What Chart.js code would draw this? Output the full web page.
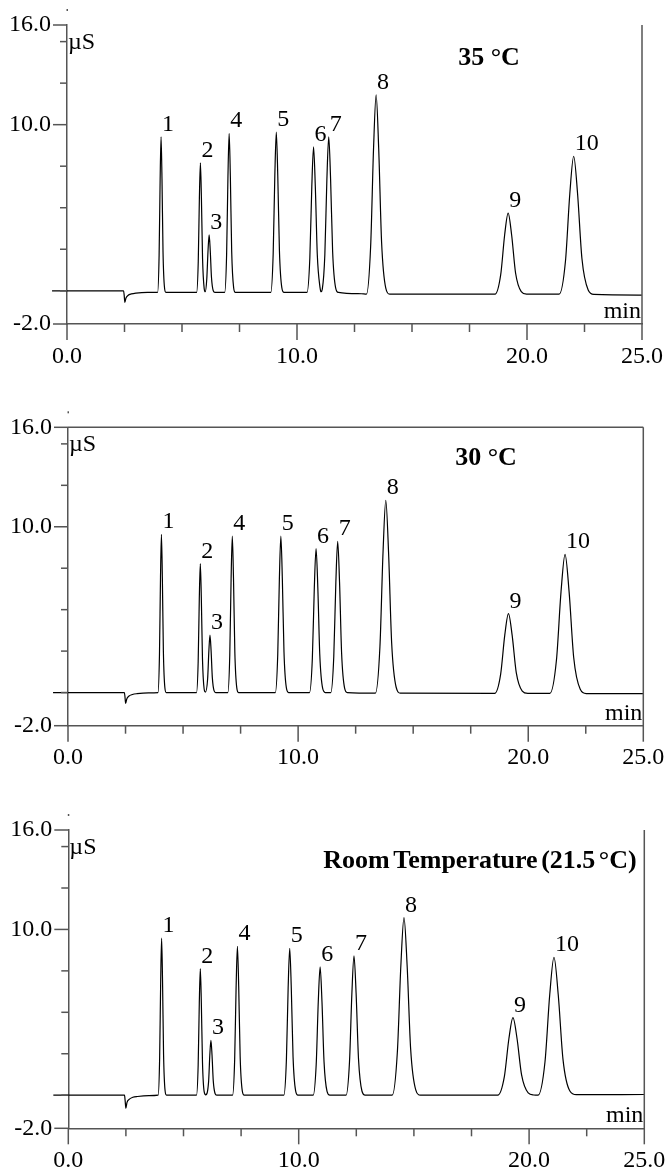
<!DOCTYPE html>
<html><head><meta charset="utf-8">
<script src="https://cdn.jsdelivr.net/npm/chart.js@4.4.1/dist/chart.umd.min.js"></script>
<style>
html,body{margin:0;padding:0;background:#fff;width:669px;height:1171px;overflow:hidden}
.panel{position:absolute;left:0;width:669px;height:366px}
</style></head><body>
<div class="panel" style="top:0px"><canvas id="c1" width="669" height="366"></canvas></div>
<div class="panel" style="top:402px"><canvas id="c2" width="669" height="366"></canvas></div>
<div class="panel" style="top:805px"><canvas id="c3" width="669" height="366"></canvas></div>
<script>
// ---- tick values ----
const xMajorTicks = [0, 10, 20, 25];
const xMinorTicks = [2.5, 5, 7.5, 12.5, 15, 17.5, 22.5];
const yMajorTicks = [-2, 10, 16];
const yMinorTicks = [0, 2.5, 5, 7.5, 12.5, 15];
const peakLabels = ['1','2','3','4','5','6','7','8','9','10'];

// ---- 35 °C trace (min, µS) ----
const p1Time = [-0.65,2.46,2.485,2.515,2.56,2.65,2.8,3.0,3.5,
 3.94,4.005,4.05,4.09,4.13,4.175,4.24,4.30,
 5.635,5.707,5.756,5.80,5.844,5.894,5.965,6.01,
 6.078,6.132,6.18,6.228,6.282,6.36,6.43,
 6.855,6.94,6.998,7.05,7.102,7.16,7.245,7.32,
 8.86,8.964,9.036,9.10,9.164,9.236,9.34,9.436,
 10.435,10.559,10.644,10.72,10.796,10.882,11.005,11.045,
 11.10,11.21,11.30,11.38,11.46,11.55,11.68,11.80,
 12.8,13.02,13.202,13.328,13.44,13.552,13.678,13.86,14.03,
 18.61,18.857,19.028,19.18,19.332,19.503,19.75,19.98,
 21.40,21.673,21.862,22.03,22.198,22.387,22.66,22.91,25.0];
const p1Signal = [0,0,-0.25,-0.7,-0.45,-0.28,-0.19,-0.14,-0.1,
 -0.1,2.15,6.74,9.27,6.74,2.34,0.18,-0.1,
 -0.1,1.77,5.59,7.70,5.59,1.93,0.13,-0.06,
 0.73,2.43,3.37,2.43,0.80,0.0,-0.1,
 -0.1,2.20,6.89,9.47,6.89,2.39,0.19,-0.1,
 -0.1,2.22,6.94,9.55,6.94,2.41,0.19,-0.1,
 -0.1,2.00,6.29,8.66,6.29,2.18,0.16,-0.06,
 0.1,2.15,6.74,9.27,6.74,2.34,0.18,-0.1,
 -0.18,-0.2,2.68,8.56,11.80,8.56,2.92,0.16,-0.2,
 -0.2,0.97,3.36,4.68,3.36,1.07,-0.05,-0.2,
 -0.2,1.79,5.86,8.10,5.86,1.96,0.05,-0.22,-0.26];
const p1PeakTimes = [4.09,5.80,6.18,7.05,9.10,10.72,11.38,13.44,19.18,22.03];
const p1PeakHeights = [9.27,7.70,3.37,9.47,9.55,8.66,9.27,11.80,4.68,8.10];

// ---- 30 °C trace ----
const p2Time = [-0.65,2.45,2.475,2.505,2.55,2.64,2.8,3.0,3.5,
 3.91,3.975,4.02,4.06,4.10,4.145,4.21,4.27,
 5.585,5.657,5.706,5.75,5.794,5.844,5.915,5.97,
 6.068,6.122,6.17,6.218,6.272,6.35,6.42,
 6.945,7.03,7.088,7.14,7.192,7.25,7.335,7.41,
 9.01,9.114,9.186,9.25,9.314,9.386,9.49,9.586,
 10.495,10.619,10.704,10.78,10.856,10.942,11.065,11.18,
 11.42,11.55,11.64,11.72,11.80,11.89,12.02,12.14,
 13.36,13.555,13.69,13.81,13.93,14.065,14.26,14.44,
 18.54,18.80,18.98,19.14,19.30,19.48,19.74,19.98,
 20.94,21.226,21.424,21.60,21.776,21.974,22.26,22.52,25.0];
const p2Signal = [0,0,-0.25,-0.66,-0.4,-0.22,-0.12,-0.07,-0.02,
 0,2.29,6.97,9.55,6.97,2.48,0.29,0,
 0,1.87,5.68,7.78,5.68,2.02,0.23,0.03,
 0.83,2.53,3.46,2.53,0.90,0.10,0,
 0,2.26,6.88,9.43,6.88,2.45,0.28,0,
 0,2.26,6.88,9.43,6.88,2.45,0.28,0,
 0,2.08,6.34,8.68,6.34,2.26,0.26,0,
 0,2.19,6.66,9.12,6.66,2.37,0.27,0,
 -0.03,2.76,8.46,11.60,8.46,2.99,0.32,-0.03,
 -0.05,1.10,3.46,4.76,3.46,1.20,0.09,-0.05,
 -0.05,1.96,6.07,8.34,6.07,2.13,0.2,-0.06,-0.07];
const p2PeakTimes = [4.06,5.75,6.17,7.14,9.25,10.78,11.72,13.81,19.14,21.60];
const p2PeakHeights = [9.55,7.78,3.46,9.43,9.43,8.68,9.12,11.60,4.76,8.34];

// ---- Room temperature trace ----
const p3Time = [-0.65,2.44,2.465,2.50,2.545,2.64,2.8,3.0,3.5,
 3.90,3.965,4.01,4.05,4.09,4.135,4.20,4.26,
 5.565,5.637,5.686,5.73,5.774,5.824,5.895,5.965,
 6.088,6.142,6.19,6.238,6.292,6.37,6.44,
 7.13,7.221,7.284,7.34,7.396,7.459,7.55,7.634,
 9.355,9.466,9.542,9.61,9.678,9.755,9.865,9.967,
 10.63,10.76,10.85,10.93,11.01,11.10,11.23,11.35,
 12.055,12.205,12.308,12.40,12.492,12.596,12.745,12.883,
 14.06,14.281,14.434,14.57,14.706,14.859,15.08,15.284,
 18.64,18.926,19.124,19.30,19.476,19.674,19.96,20.2,
 20.39,20.689,20.896,21.08,21.264,21.471,21.77,22.05,25.0];
const p3Signal = [0,0,-0.3,-0.79,-0.45,-0.25,-0.13,-0.08,-0.03,
 0,2.27,6.91,9.47,6.91,2.46,0.28,0,
 0,1.83,5.58,7.64,5.58,1.99,0.23,0.02,
 0.79,2.42,3.31,2.42,0.86,0.10,0,
 0,2.16,6.56,8.98,6.56,2.33,0.27,0,
 0,2.13,6.47,8.86,6.47,2.30,0.27,0,
 0,1.86,5.65,7.74,5.65,2.01,0.23,0,
 0,2.02,6.13,8.40,6.13,2.18,0.25,0,
 0,2.57,7.82,10.71,7.82,2.78,0.32,0,
 0,1.12,3.42,4.68,3.42,1.22,0.14,0.01,
 0,2.00,6.07,8.32,6.07,2.16,0.25,0.03,0.04];
const p3PeakTimes = [4.05,5.73,6.19,7.34,9.61,10.93,12.40,14.57,19.30,21.08];
const p3PeakHeights = [9.47,7.64,3.31,8.98,8.86,7.74,8.40,10.71,4.68,8.32];

const FONT = "'Liberation Serif','Times New Roman',serif";
const AXIS = '#555';

const decor = {
  id: 'decor',
  afterDraw(chart, args, o) {
    const {ctx, chartArea: a, scales: {x, y}} = chart;
    const ln = (x1, y1, x2, y2) => { ctx.beginPath(); ctx.moveTo(x1, y1); ctx.lineTo(x2, y2); ctx.stroke(); };
    ctx.save();
    ctx.strokeStyle = AXIS; ctx.lineWidth = 1.5;
    ln(a.right, a.top, a.right, a.bottom);
    if (o.topBorder) ln(a.left, a.top, a.right, a.top);
    xMajorTicks.forEach(v => { const p = x.getPixelForValue(v); ln(p, a.bottom, p, a.bottom + 16); });
    xMinorTicks.forEach(v => { const p = x.getPixelForValue(v); ln(p, a.bottom, p, a.bottom + 8); });
    yMajorTicks.forEach(v => { const p = y.getPixelForValue(v); ln(a.left - 14, p, a.left, p); });
    yMinorTicks.forEach(v => { const p = y.getPixelForValue(v); ln(a.left - 7, p, a.left, p); });
    ctx.fillStyle = AXIS; ctx.fillRect(a.left - 0.5, a.top - 16, 1.5, 2);
    ctx.fillStyle = '#000';
    ctx.font = '24px ' + FONT; ctx.textBaseline = 'alphabetic';
    ctx.textAlign = 'left'; ctx.fillText('µS', a.left + 1, a.top + 24);
    ctx.textAlign = 'right'; ctx.fillText('min', a.right - 1, a.bottom - 6);
    ctx.textAlign = 'left';
    o.peakTimes.forEach((t, i) => {
      ctx.fillText(peakLabels[i], x.getPixelForValue(t) + 1, y.getPixelForValue(o.peakHeights[i]) - 6);
    });
    const T = o.title;
    ctx.font = 'bold 26px ' + FONT;
    if (T.width) {
      if ('wordSpacing' in ctx) ctx.wordSpacing = '-3px';
      const w = ctx.measureText(T.text).width;
      const sx = Math.min(1, T.width / w);
      ctx.translate(T.x, T.y); ctx.scale(sx, 1);
      ctx.textAlign = 'left'; ctx.fillText(T.text, 0, 0);
    } else {
      ctx.textAlign = 'center'; ctx.fillText(T.text, T.x, T.y);
    }
    ctx.restore();
  }
};

const panels = [
  {id:'c1', time:p1Time, signal:p1Signal, pt:p1PeakTimes, ph:p1PeakHeights, left:67, rightPad:27, top:25, bottom:324, topBorder:false,
   title:{text:'35 °C', x:489, y:65}},
  {id:'c2', time:p2Time, signal:p2Signal, pt:p2PeakTimes, ph:p2PeakHeights, left:68, rightPad:25.7, top:25.3, bottom:323.7, topBorder:true,
   title:{text:'30 °C', x:486, y:63}},
  {id:'c3', time:p3Time, signal:p3Signal, pt:p3PeakTimes, ph:p3PeakHeights, left:68.3, rightPad:24.7, top:25, bottom:323.3, topBorder:false,
   title:{text:'Room Temperature (21.5 °C)', x:323.3, y:63.3, width:313.4}}
];

panels.forEach(P => {
  new Chart(document.getElementById(P.id), {
    type: 'line',
    data: { datasets: [{
      data: P.time.map((t, i) => ({x: t, y: P.signal[i]})),
      borderColor: '#000', borderWidth: 1.2, pointRadius: 0, fill: false,
      tension: 0.4, cubicInterpolationMode: 'monotone', clip: false
    }]},
    options: {
      responsive: false, animation: false, events: [],
      layout: { padding: { left: 0, right: P.rightPad, top: P.top, bottom: 0 } },
      plugins: { legend: {display: false}, tooltip: {enabled: false},
        decor: { topBorder: P.topBorder, peakTimes: P.pt, peakHeights: P.ph, title: P.title } },
      scales: {
        x: { type: 'linear', min: 0, max: 25,
          afterBuildTicks: s => { s.ticks = xMajorTicks.map(v => ({value: v})); },
          afterFit: s => { s.height = 366 - P.bottom; },
          grid: { display: false, drawTicks: true, tickLength: 16 },
          border: { display: true, color: AXIS, width: 1.5 },
          ticks: { autoSkip: false, maxRotation: 0, padding: 2, color: '#000',
            font: { family: FONT, size: 24 }, callback: v => Number(v).toFixed(1) } },
        y: { type: 'linear', min: -2, max: 16,
          afterBuildTicks: s => { s.ticks = yMajorTicks.map(v => ({value: v})); },
          afterFit: s => { s.width = P.left; },
          grid: { display: false, drawTicks: true, tickLength: 14 },
          border: { display: true, color: AXIS, width: 1.5 },
          ticks: { autoSkip: false, padding: 2, color: '#000',
            font: { family: FONT, size: 24 }, callback: v => Number(v).toFixed(1) } }
      }
    },
    plugins: [decor]
  });
});
</script>
</body></html>
